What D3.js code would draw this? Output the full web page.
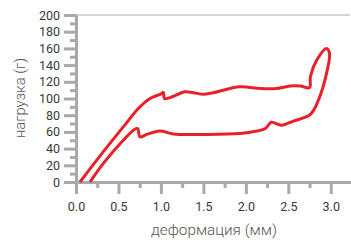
<!DOCTYPE html>
<html><head><meta charset="utf-8">
<script src="https://cdn.jsdelivr.net/npm/d3@7"></script>
<style>body{margin:0;background:#fff}svg{display:block}text{font-family:Roboto,"Noto Sans",sans-serif}</style>
</head><body>
<svg id="c" width="351" height="240"></svg>
<script>
const curveX = [0.047,0.32,0.557,0.734,0.872,0.989,1.03,1.04,1.107,1.284,1.38,1.5,1.62,1.93,2.17,2.36,2.52,2.64,2.75,2.76,2.835,2.95,2.985,2.95,2.855,2.76,2.56,2.42,2.30,2.23,2.13,1.93,1.5,1.146,0.989,0.833,0.754,0.726,0.695,0.557,0.32,0.165];
const curveY = [0,36,66,88,100,105,107,100,101,108,107,105,107,114,112,112,115,115,113,126,146,160,154,130,98,81,73,68,71.5,64,61,58,57,57.5,61,57,54,64,63.5,50,22,0];
const xTicks = [0,0.5,1.0,1.5,2.0,2.5,3.0];
const xMinor = [0.25,0.75,1.25,1.75,2.25,2.75,3.25];
const yTicks = [0,20,40,60,80,100,120,140,160,180,200];
const yMinor = [10,30,50,70,90,110,130,150,170,190];
const xTitle = "деформация (мм)";
const yTitle = "нагрузка (г)";

const svg = d3.select("#c");
const x = d3.scaleLinear().domain([0,3.25]).range([76,352]);
const y = d3.scaleLinear().domain([0,200]).range([182,15]);
const axisCol = "#a9a9ab";

svg.append("line").attr("x1",x(0)).attr("x2",350).attr("y1",y(200)).attr("y2",y(200))
  .attr("stroke","#d4d4d6").attr("stroke-width",2);

const gxm = svg.append("g").attr("transform",`translate(0,${y(0)})`)
  .call(d3.axisBottom(x).tickValues(xMinor).tickSize(6).tickFormat("").tickSizeOuter(0));
const gym = svg.append("g").attr("transform",`translate(${x(0)},0)`)
  .call(d3.axisLeft(y).tickValues(yMinor).tickSize(6).tickFormat("").tickSizeOuter(0));

const gx = svg.append("g").attr("transform",`translate(0,${y(0)})`)
  .call(d3.axisBottom(x).tickValues(xTicks).tickSize(12).tickPadding(8).tickFormat(d3.format(".1f")).tickSizeOuter(0));
const gy = svg.append("g").attr("transform",`translate(${x(0)},0)`)
  .call(d3.axisLeft(y).tickValues(yTicks).tickSize(12).tickPadding(4).tickSizeOuter(0));

[gxm,gym,gx,gy].forEach(g=>{
  g.selectAll(".domain").attr("stroke",axisCol).attr("stroke-width",3);
  g.selectAll(".tick line").attr("stroke",axisCol).attr("stroke-width",3);
  g.selectAll("text").attr("fill","#3a3a3a").attr("font-size",12.5).attr("font-family","Roboto");
});
gx.select(".domain").attr("d",`M64,0.5H351`);

const pts = curveX.map((d,i)=>[d,curveY[i]]);
svg.append("path").datum(pts)
  .attr("d",d3.line().x(d=>x(d[0])).y(d=>y(d[1])).curve(d3.curveCatmullRom.alpha(0.5)))
  .attr("fill","none").attr("stroke","#e8202a").attr("stroke-width",3).attr("stroke-linejoin","round");

svg.append("text").attr("x",214).attr("y",234.5).attr("text-anchor","middle")
  .attr("font-size",15.3).attr("font-weight",300).attr("fill","#555").text(xTitle);
svg.append("text").attr("transform","translate(25,98) rotate(-90)").attr("text-anchor","middle")
  .attr("font-size",14.8).attr("font-weight",300).attr("fill","#555").text(yTitle);
</script>
</body></html>
